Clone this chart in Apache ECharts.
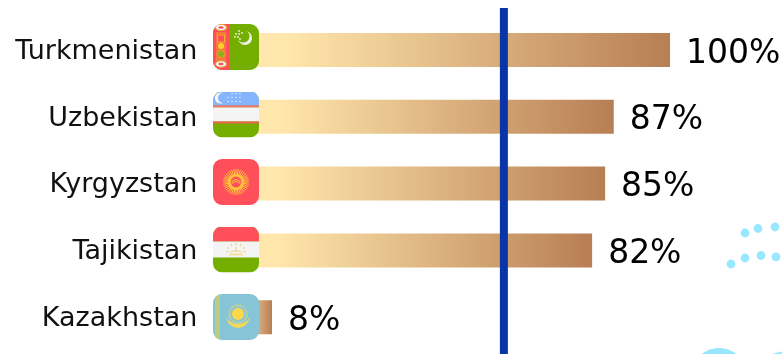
<!DOCTYPE html>
<html>
<head>
<meta charset="utf-8">
<style>html,body{margin:0;padding:0;background:#fff}#chart{width:782px;height:354px}</style>
<script src="https://cdn.jsdelivr.net/npm/echarts@6/dist/echarts.min.js"></script>
</head>
<body>
<div id="chart"></div>
<script>
const countries = ['Turkmenistan', 'Uzbekistan', 'Kyrgyzstan', 'Tajikistan', 'Kazakhstan'];
const shares = [100, 87, 85, 82, 8];
const averageLine = 61.6;
const flagKeys = ['tm', 'uz', 'kg', 'tj', 'kz'];

const RED = '#ff4f5b', GREEN = '#74af00', WHITE = '#f4f4f4';

// Sun-style rays radiating from a centre point
function rays(cx, cy, r0, r1, n, color, w) {
  let s = '';
  for (let i = 0; i < n; i++) {
    const a = i / n * Math.PI * 2;
    s += `<line x1="${cx + r0 * Math.cos(a)}" y1="${cy + r0 * Math.sin(a)}" x2="${cx + r1 * Math.cos(a)}" y2="${cy + r1 * Math.sin(a)}" stroke="${color}" stroke-width="${w}"/>`;
  }
  return s;
}
function dots(list, r, color) {
  return list.map(p => `<circle cx="${p[0]}" cy="${p[1]}" r="${r}" fill="${color}"/>`).join('');
}
function gul(cy) {
  return `<ellipse cx="8" cy="${cy}" rx="5.6" ry="3.2" fill="#f4f4f4" stroke="#e8a020" stroke-width="1"/><ellipse cx="8" cy="${cy}" rx="2.6" ry="1.2" fill="${RED}"/>`;
}
const flagBodies = {
  tm: `<rect width="46" height="46" fill="${GREEN}"/><rect width="16.5" height="46" fill="${RED}"/>
    <rect x="3" y="8" width="10" height="30" fill="#f0a818" opacity=".45"/>
    ${gul(3.5)}<rect x="4.5" y="11" width="7" height="7" fill="${RED}" stroke="#f0b020"/><circle cx="8" cy="22" r="3" fill="#ffd030"/><circle cx="8" cy="30" r="3.6" fill="#8fae20" stroke="#e8a020"/>${gul(40)}
    <circle cx="32" cy="14" r="7" fill="#eef2e4"/><circle cx="30.2" cy="12.2" r="6.3" fill="${GREEN}"/>
    ${dots([[26, 7], [23, 10], [26, 10], [29, 9], [22, 13], [25, 13], [27, 15]], 0.9, '#eef2e0')}`,
  uz: `<rect width="46" height="46" fill="${GREEN}"/><rect width="46" height="14" fill="#85b4ff"/>
    <rect y="14" width="46" height="2" fill="#ff6f78"/><rect y="16" width="46" height="14" fill="${WHITE}"/><rect y="30" width="46" height="2" fill="#f0604c"/>
    <path d="M10 1.5 A5.6 5.6 0 1 0 10 11.5 A4.6 4.6 0 1 1 10 1.5Z" fill="#f4f4f4"/>
    ${dots([[19, 2], [23, 2], [27, 2], [15, 6], [19, 6], [23, 6], [27, 6], [15, 10], [19, 10], [23, 10], [27, 10]], 0.8, '#dfe9ff')}`,
  kg: `<rect width="46" height="46" fill="${RED}"/>${rays(23, 23, 7, 13, 36, '#ffc53a', 1)}
    <circle cx="23" cy="23" r="8" fill="#ffc53a"/><circle cx="23" cy="23" r="5.4" fill="${RED}"/>
    <path d="M18.5 23 Q23 18 27.5 23 M18.5 25 Q23 20 27.5 25" stroke="#ffc53a" stroke-width="1" fill="none"/>`,
  tj: `<rect width="46" height="46" fill="${GREEN}"/><rect width="46" height="15" fill="${RED}"/><rect y="15" width="46" height="16" fill="${WHITE}"/>
    <path d="M17 26 Q23 22 29 26 M23 20 V26" stroke="#f3d58c" stroke-width="1.1" fill="none"/><path d="M16 28 H30" stroke="#f3d58c" stroke-width="1.4"/>
    ${dots([[23, 17.5], [18.5, 18.5], [27.5, 18.5], [15, 21.5], [31, 21.5], [14.5, 25], [31.5, 25]], 0.8, '#eebf60')}`,
  kz: `<rect width="46" height="46" fill="#86c5d8"/><rect x="2" width="5" height="46" fill="#bccb7c"/>
    ${rays(25, 20, 7.5, 10, 28, '#dcd67a', 1)}<circle cx="25" cy="20" r="6" fill="#ffd84a"/>
    <path d="M13 23 Q16 34 25 34 Q34 34 37 23 Q33 30 25 30 Q17 30 13 23Z" fill="#f4d85a"/>`
};
function flagImage(key) {
  const svg = `<svg xmlns="http://www.w3.org/2000/svg" width="46" height="46" viewBox="0 0 46 46"><clipPath id="c"><rect width="46" height="46" rx="9"/></clipPath><g clip-path="url(#c)">${flagBodies[key]}</g></svg>`;
  return 'image://data:image/svg+xml;charset=utf-8,' + encodeURIComponent(svg);
}

const barFill = {
  type: 'linear', x: 0, y: 0, x2: 1, y2: 0,
  colorStops: [{ offset: 0, color: '#ffe8ae' }, { offset: 0.12, color: '#ffe6ab' }, { offset: 1, color: '#b87e54' }]
};

const chart = echarts.init(document.getElementById('chart'), null, { renderer: 'canvas' });
chart.setOption({
  backgroundColor: '#ffffff',
  animation: false,
  grid: [
    { left: 237.4, right: 112, top: 16.6, bottom: 3.4 },   // bars
    { left: 237.4, right: 112, top: 8, bottom: 0 },        // reference line
    { left: 236, right: 112, top: 13.25, bottom: 3.25 },   // flag column
    { left: 237.4, right: 112, top: 18.4, bottom: 1.6 }    // country names
  ],
  xAxis: [
    { type: 'value', gridIndex: 0, min: 0, max: 100, show: false },
    { type: 'value', gridIndex: 1, min: 0, max: 100, show: false },
    { type: 'value', gridIndex: 2, min: 0, max: 100, show: false },
    { type: 'value', gridIndex: 3, min: 0, max: 100, show: false }
  ],
  yAxis: [
    { type: 'category', gridIndex: 0, data: countries, inverse: true, show: false },
    { type: 'value', gridIndex: 1, min: 0, max: 1, show: false },
    { type: 'category', gridIndex: 2, data: countries, inverse: true, show: false },
    {
      type: 'category', gridIndex: 3, data: countries, inverse: true,
      axisLine: { show: false }, axisTick: { show: false }, splitLine: { show: false },
      axisLabel: { margin: 40, color: '#111', fontFamily: 'DejaVu Sans', fontSize: 27 }
    }
  ],
  series: [
    {
      type: 'bar', xAxisIndex: 0, yAxisIndex: 0, data: shares, barWidth: 34, z: 2,
      itemStyle: { color: barFill },
      label: {
        show: true, position: 'right', distance: 16, offset: [0, 4],
        formatter: '{c}%', color: '#000', fontFamily: 'DejaVu Sans', fontSize: 33
      }
    },
    {
      type: 'scatter', xAxisIndex: 2, yAxisIndex: 2, z: 3, symbolSize: 46, silent: true,
      itemStyle: { opacity: 1 },
      data: countries.map((c, i) => ({ value: [0, c], symbol: flagImage(flagKeys[i]) }))
    },
    {
      type: 'line', xAxisIndex: 1, yAxisIndex: 1, z: 4, symbol: 'none', silent: true,
      data: [[averageLine, 0], [averageLine, 1]],
      lineStyle: { color: '#0a35a8', width: 8, cap: 'butt' }
    }
  ],
  // Light background decoration in the lower right corner
  graphic: [
    ...[[745, 233, 4.4], [758, 228.5, 4.4], [775, 227, 4.4], [731, 264, 4.4], [745, 258, 4.4], [761, 255.5, 4.4], [776, 257, 4.4]]
      .map(d => ({ type: 'circle', silent: true, z: 0, shape: { cx: d[0], cy: d[1], r: d[2] }, style: { fill: '#99e7ff' } })),
    { type: 'ellipse', silent: true, z: 0, shape: { cx: 719, cy: 372, rx: 26, ry: 24 }, style: { fill: '#99e7ff' } },
    { type: 'ellipse', silent: true, z: 0, shape: { cx: 800, cy: 372, rx: 48, ry: 22 }, style: { fill: '#99e7ff' } }
  ]
});
</script>
</body>
</html>
